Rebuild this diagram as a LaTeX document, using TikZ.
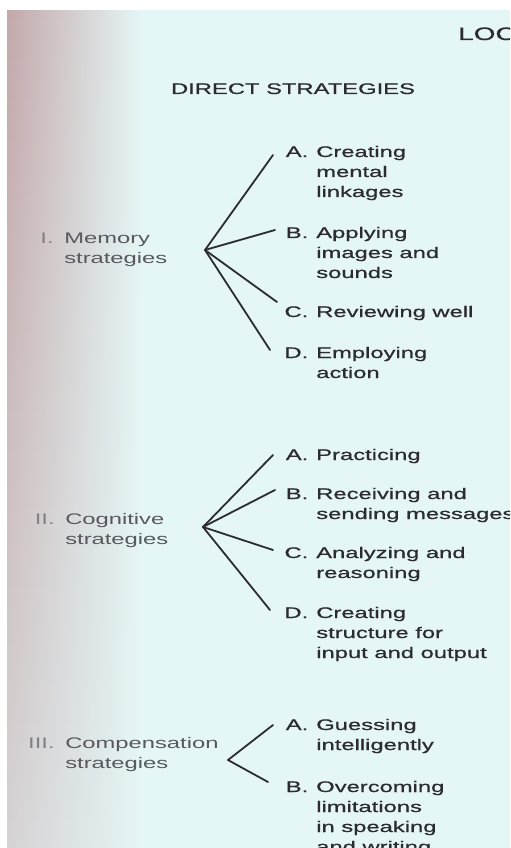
\documentclass[tikz,border=0pt]{standalone}
\usepackage{fontspec}
\setmainfont{Liberation Sans}[FakeStretch=1.55]
\newfontfamily\heavyfont{Liberation Sans}[FakeStretch=1.55, FakeBold=0.8]
\usetikzlibrary{fadings}

\definecolor{pagecyan}{RGB}{229,246,246}
\definecolor{pagepink}{RGB}{196,168,170}
\definecolor{inkdark}{RGB}{44,44,48}
\definecolor{inklight}{RGB}{88,88,94}

\newcommand{\labelfont}{\heavyfont\fontsize{11.5pt}{15pt}\selectfont}
\newcommand{\grpfont}{\fontsize{11.5pt}{15pt}\selectfont}
\newcommand{\numlabel}[1]{\llap{\textcolor{inklight!75!white}{#1}\hspace{8pt}}}
\newcommand{\letlabel}[1]{\llap{#1\hspace{6pt}}}
\newcommand{\stack}[1]{\begin{tabular}[t]{@{}l@{}}#1\end{tabular}}

\begin{document}
\begin{tikzpicture}[x=0.75pt, y=0.75pt,
  item/.style={anchor=base west, inner sep=0pt, text=inkdark, font=\labelfont},
  group/.style={item, text=inklight, font=\grpfont},
  branch/.style={draw=inkdark, line width=1.35pt, line cap=round}]
  % Page
  \clip (0,0) rectangle (510,-848);
  \fill[white] (0,0) rectangle (510,-848);
  \fill[pagecyan] (7,-10) rectangle (510,-848);
  \shade[top color=pagepink, bottom color=pagepink!45!pagecyan, path fading=east]
    (7,-10) rectangle (140,-848);

  % Headings
  \node[item, font=\heavyfont\fontsize{13.5pt}{15pt}\selectfont] (loc) at (458,-40) {LOC};
  \node[item, anchor=base] (title) at (293,-94) {DIRECT STRATEGIES};

  % I. Memory
  \coordinate (memHub) at (205,-250);
  \node[group] (mem) at (64,-244) {\stack{\numlabel{I.}Memory\\strategies}};
  \node[item] (memA) at (316,-157) {\stack{\letlabel{A.}Creating\\mental\\linkages}};
  \node[item] (memB) at (316,-238) {\stack{\letlabel{B.}Applying\\images and\\sounds}};
  \node[item] (memC) at (316,-317) {\letlabel{C.}Reviewing well};
  \node[item] (memD) at (316,-358) {\stack{\letlabel{D.}Employing\\action}};

  % II. Cognitive
  \coordinate (cogHub) at (203,-527);
  \node[group] (cog) at (65,-524) {\stack{\numlabel{II.}Cognitive\\strategies}};
  \node[item] (cogA) at (316,-460) {\letlabel{A.}Practicing};
  \node[item] (cogB) at (316,-499) {\stack{\letlabel{B.}Receiving and\\sending messages}};
  \node[item] (cogC) at (316,-558) {\stack{\letlabel{C.}Analyzing and\\reasoning}};
  \node[item] (cogD) at (316,-618) {\stack{\letlabel{D.}Creating\\structure for\\input and output}};

  % III. Compensation
  \coordinate (comHub) at (228,-760);
  \node[group] (com) at (65,-748) {\stack{\numlabel{III.}Compensation\\strategies}};
  \node[item] (comA) at (316,-730) {\stack{\letlabel{A.}Guessing\\intelligently}};
  \node[item] (comB) at (316,-792) {\stack{\letlabel{B.}Overcoming\\limitations\\in speaking\\and writing}};

  % Branches
  \foreach \n/\dx/\dy in {memA/-43/2, memB/-41/8, memC/-39/15, memD/-46/8}
    \draw[branch] (memHub) -- ([shift={(\dx,\dy)}]\n.base west);
  \foreach \n/\dx/\dy in {cogA/-43/5, cogB/-41/9, cogC/-43/8, cogD/-46/8}
    \draw[branch] (cogHub) -- ([shift={(\dx,\dy)}]\n.base west);
  \foreach \n/\dx/\dy in {comA/-43/5, comB/-48/10}
    \draw[branch] (comHub) -- ([shift={(\dx,\dy)}]\n.base west);
\end{tikzpicture}
\end{document}
